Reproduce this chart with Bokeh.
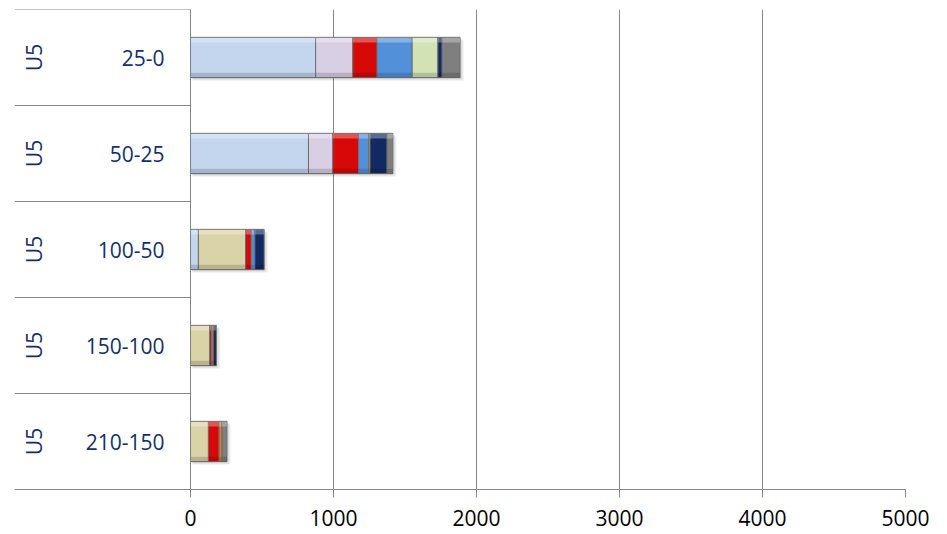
from bokeh.plotting import figure
from bokeh.models import Range1d, FixedTicker, ColumnDataSource, Span
from bokeh.core.properties import value
from bokeh.embed import file_html
from bokeh.resources import INLINE

# ---- data ----
groups = ["U5", "U5", "U5", "U5", "U5"]
depths = ["25-0", "50-25", "100-50", "150-100", "210-150"]
x_ticks = [0, 1000, 2000, 3000, 4000, 5000]

s_light_blue = [875, 825, 55, 0, 0]
s_lavender = [260, 170, 0, 0, 0]
s_khaki = [0, 0, 330, 135, 125]
s_red = [170, 180, 40, 12, 75]
s_orange = [0, 0, 0, 12, 20]
s_blue = [245, 70, 25, 0, 0]
s_light_green = [180, 10, 0, 0, 0]
s_navy = [30, 120, 65, 22, 0]
s_gray = [125, 40, 0, 0, 35]

series = [s_light_blue, s_lavender, s_khaki, s_red, s_orange,
          s_blue, s_light_green, s_navy, s_gray]
colors = ["#C3D6EE", "#D8CFE5", "#D9D3A7", "#D80808", "#E07A2A",
          "#5390DA", "#D2E2B4", "#112B62", "#7F7F7F"]

n = len(depths)
ys = [n - 1 - i for i in range(n)]

p = figure(width=945, height=534, output_backend="svg", toolbar_location=None,
           x_range=Range1d(-1231, 5000), y_range=Range1d(-0.5, n - 0.5),
           min_border_left=14, min_border_right=40, min_border_top=9,
           min_border_bottom=45)
p.outline_line_color = None
p.background_fill_color = "white"
p.border_fill_color = "white"

# grid
p.ygrid.grid_line_color = None
p.xgrid.ticker = FixedTicker(ticks=x_ticks)
p.xgrid.grid_line_color = "#868686"
p.xgrid.grid_line_width = 1

# axes
p.yaxis.visible = False
ax = p.xaxis[0]
ax.ticker = FixedTicker(ticks=x_ticks)
ax.axis_line_color = "#868686"
ax.major_tick_line_color = "#868686"
ax.major_tick_out = 8
ax.major_tick_in = 0
ax.minor_tick_line_color = None
ax.major_label_standoff = 12
ax.major_label_text_font = "Open Sans"
ax.major_label_text_font_size = "21px"
ax.major_label_text_color = "#000000"

# category separators in label area
bounds = [i - 0.5 for i in range(n + 1)]
p.segment(x0=[-1231] * len(bounds), x1=[0] * len(bounds), y0=bounds, y1=bounds,
          line_color="#868686", line_width=1)

# soft shadows
totals = [sum(s[i] for s in series) for i in range(n)]
p.hbar(y=[y - 0.03 for y in ys], left=[15] * n, right=[t + 25 for t in totals],
       height=0.42, fill_color="#000000", fill_alpha=0.07, line_color=None)
p.hbar(y=[y - 0.02 for y in ys], left=[10] * n, right=[t + 15 for t in totals],
       height=0.42, fill_color="#000000", fill_alpha=0.07, line_color=None)

# stacked bars
lefts = [0] * n
for vals, col in zip(series, colors):
    rights = [l + v for l, v in zip(lefts, vals)]
    idx = [i for i in range(n) if vals[i] > 0]
    src = ColumnDataSource(dict(y=[ys[i] for i in idx],
                                left=[lefts[i] for i in idx],
                                right=[rights[i] for i in idx]))
    p.hbar(y="y", left="left", right="right", height=0.42, source=src,
           fill_color=col, line_color="#6E6E6E", line_width=1)
    # bevel highlight / shade
    src_hi = ColumnDataSource(dict(y=[ys[i] + 0.18 for i in idx],
                                   left=[lefts[i] for i in idx],
                                   right=[rights[i] for i in idx]))
    p.hbar(y="y", left="left", right="right", height=0.05, source=src_hi,
           fill_color="white", fill_alpha=0.3, line_color=None)
    src_lo = ColumnDataSource(dict(y=[ys[i] - 0.185 for i in idx],
                                   left=[lefts[i] for i in idx],
                                   right=[rights[i] for i in idx]))
    p.hbar(y="y", left="left", right="right", height=0.05, source=src_lo,
           fill_color="black", fill_alpha=0.15, line_color=None)
    lefts = rights

# vertical axis line at 0
p.add_layout(Span(location=0, dimension="height", line_color="#868686", line_width=1))

# category labels
p.text(x=[-1098] * n, y=ys, text=groups, angle=1.5708,
       text_align="center", text_baseline="middle",
       text_font=value("Open Sans"), text_font_size="21px", text_color="#13306A")
p.text(x=[-182] * n, y=ys, text=depths,
       text_align="right", text_baseline="middle",
       text_font=value("Open Sans"), text_font_size="21px", text_color="#13306A")

open("out.html", "w").write(file_html(p, INLINE))
